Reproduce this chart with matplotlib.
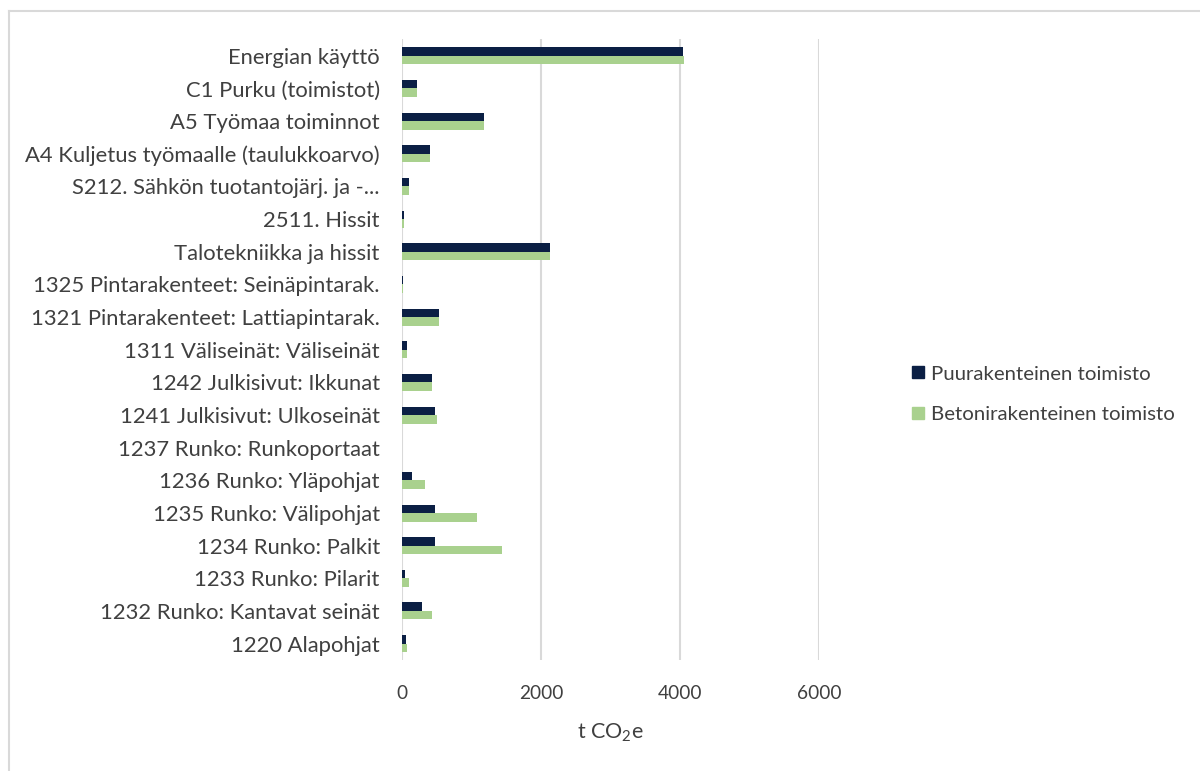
import matplotlib
matplotlib.use("Agg")
import matplotlib.pyplot as plt
import numpy as np
from matplotlib.lines import Line2D

plt.rcParams['font.family'] = ['Lato', 'DejaVu Sans']
plt.rcParams['mathtext.fontset'] = 'custom'
plt.rcParams['mathtext.rm'] = 'Lato'
plt.rcParams['mathtext.it'] = 'Lato:italic'

# Categories from top to bottom
categories = [
    "Energian käyttö",
    "C1 Purku (toimistot)",
    "A5 Työmaa toiminnot",
    "A4 Kuljetus työmaalle (taulukkoarvo)",
    "S212. Sähkön tuotantojärj. ja -...",
    "2511. Hissit",
    "Talotekniikka ja hissit",
    "1325 Pintarakenteet: Seinäpintarak.",
    "1321 Pintarakenteet: Lattiapintarak.",
    "1311 Väliseinät: Väliseinät",
    "1242 Julkisivut: Ikkunat",
    "1241 Julkisivut: Ulkoseinät",
    "1237 Runko: Runkoportaat",
    "1236 Runko: Yläpohjat",
    "1235 Runko: Välipohjat",
    "1234 Runko: Palkit",
    "1233 Runko: Pilarit",
    "1232 Runko: Kantavat seinät",
    "1220 Alapohjat",
]

# Emissions, t CO2e
puu = [4050, 210, 1180, 405, 95, 25, 2125, 20, 527, 76, 436, 479, 5, 139, 479, 479, 43, 287, 57]
betoni = [4055, 212, 1180, 405, 97, 22, 2125, 15, 530, 76, 436, 503, 3, 330, 1077, 1437, 100, 426, 67]

series_names = ["Puurakenteinen toimisto", "Betonirakenteinen toimisto"]
x_ticks = [0, 2000, 4000, 6000]

dark = '#0b1f44'
green = '#a9d18e'
text_col = '#404040'
grid_col = '#d9d9d9'

fig = plt.figure(figsize=(12, 7.71), dpi=100)
ax = fig.add_axes([0.335, 0.144, 0.6825 - 0.335, 0.9488 - 0.144])

n = len(categories)
y = np.arange(n)[::-1]
h = 0.26
ax.barh(y + h / 2, puu, height=h, color=dark, zorder=3)
ax.barh(y - h / 2, betoni, height=h, color=green, zorder=3)

ax.set_ylim(-0.5, n - 0.5)
ax.set_xlim(0, 6000)
ax.set_yticks(y)
ax.set_yticklabels(categories, fontsize=15.8, color=text_col)
ax.set_xticks(x_ticks)
ax.set_xticklabels([str(t) for t in x_ticks], fontsize=13.8, color=text_col)
ax.tick_params(length=0)
ax.tick_params(axis='y', pad=16)
ax.tick_params(axis='x', pad=18)

for s in ax.spines.values():
    s.set_visible(False)
ax.grid(axis='x', color=grid_col, linewidth=1.5, zorder=0)
ax.set_axisbelow(True)

ax.set_xlabel("t CO$_2$e", fontsize=15.5, color=text_col, labelpad=14)

handles = [Line2D([], [], marker='s', linestyle='none', markersize=9, color=dark),
           Line2D([], [], marker='s', linestyle='none', markersize=9, color=green)]
fig.legend(handles, series_names, loc='center left', bbox_to_anchor=(0.7415, 0.489),
           frameon=False, fontsize=14.7, labelcolor=text_col, handletextpad=0.1,
           labelspacing=1.12, handlelength=1.0)

# Chart-area border (top and left edges)
fig.add_artist(Line2D([8.5 / 1200, 1], [1 - 10.5 / 771, 1 - 10.5 / 771],
                      transform=fig.transFigure, color=grid_col, linewidth=1.5))
fig.add_artist(Line2D([8.5 / 1200, 8.5 / 1200], [0, 1 - 10.5 / 771],
                      transform=fig.transFigure, color=grid_col, linewidth=1.5))

fig.savefig("out.png", dpi=100, facecolor='white')
